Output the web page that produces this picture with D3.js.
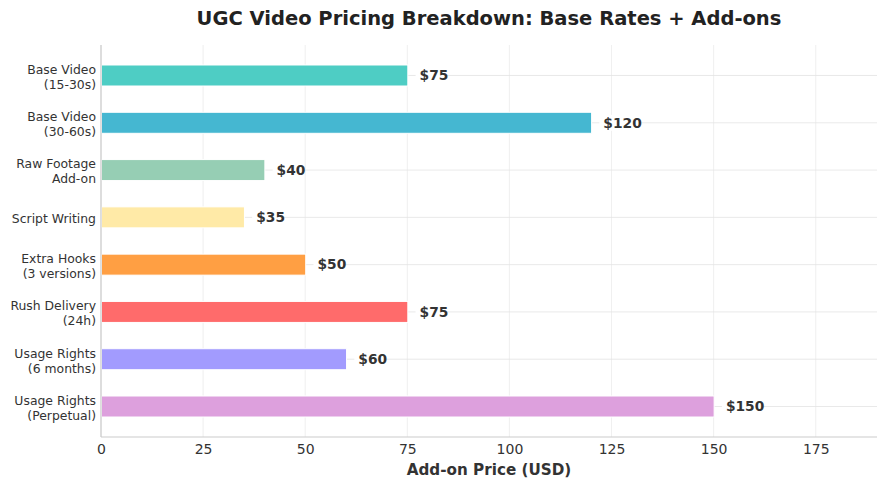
<!DOCTYPE html>
<html>
<head>
<meta charset="utf-8">
<script src="https://cdn.jsdelivr.net/npm/d3@7"></script>
<style>
  body { margin: 0; background: #fff; }
  text { font-family: "DejaVu Sans", sans-serif; }
</style>
</head>
<body>
<div id="chart"></div>
<script>
// chart data
var categories = ["Base Video\n(15-30s)", "Base Video\n(30-60s)", "Raw Footage\nAdd-on", "Script Writing",
  "Extra Hooks\n(3 versions)", "Rush Delivery\n(24h)", "Usage Rights\n(6 months)", "Usage Rights\n(Perpetual)"];
var prices = [75, 120, 40, 35, 50, 75, 60, 150];
var barColors = ["#4ECDC4", "#45B7D1", "#96CEB4", "#FFEAA7", "#FF9F43", "#FF6B6B", "#A29BFE", "#DDA0DD"];
var xTicks = [0, 25, 50, 75, 100, 125, 150, 175];

var svgWidth = 887;
var svgHeight = 486;
var margin = { top: 45, right: 10, bottom: 49, left: 101 };
var width = svgWidth - margin.left - margin.right;
var height = svgHeight - margin.top - margin.bottom;

var svg = d3.select("#chart").append("svg")
  .attr("width", svgWidth)
  .attr("height", svgHeight);

var chartGroup = svg.append("g")
  .attr("transform", `translate(${margin.left}, ${margin.top})`);

var xScale = d3.scaleLinear().domain([0, 190]).range([0, width]);
var yScale = d3.scalePoint().domain(d3.range(categories.length)).range([0, height]).padding(0.645);
var barH = 21;

// grid lines
chartGroup.append("g").selectAll("line").data(xTicks).enter().append("line")
  .attr("x1", d => xScale(d)).attr("x2", d => xScale(d))
  .attr("y1", 0).attr("y2", height)
  .attr("stroke", "#ebebeb").attr("stroke-width", 0.8);
chartGroup.append("g").selectAll("line").data(categories).enter().append("line")
  .attr("x1", 0).attr("x2", width)
  .attr("y1", (d, i) => yScale(i)).attr("y2", (d, i) => yScale(i))
  .attr("stroke", "#e3e3e3").attr("stroke-width", 0.8);

// bars
chartGroup.selectAll("rect.bar").data(prices).enter().append("rect")
  .attr("class", "bar")
  .attr("x", xScale(0) + 0.5)
  .attr("y", (d, i) => yScale(i) - barH / 2)
  .attr("width", d => xScale(d) - xScale(0))
  .attr("height", barH)
  .attr("fill", (d, i) => barColors[i])
  .attr("stroke", "#fff").attr("stroke-width", 1);

// value labels with white box
var labels = chartGroup.selectAll("g.lbl").data(prices).enter().append("g")
  .attr("class", "lbl")
  .attr("transform", (d, i) => `translate(${xScale(d + 3)}, ${yScale(i)})`);
labels.append("rect")
  .attr("x", -4).attr("y", -8)
  .attr("width", d => ("$" + d).length * 8.5 + 6).attr("height", 16)
  .attr("fill", "#fff");
labels.append("text")
  .attr("dy", "0.35em")
  .attr("font-size", "13.8px").attr("font-weight", "bold").attr("fill", "#333")
  .text(d => "$" + d);

// y axis labels
var yLab = chartGroup.append("g").selectAll("text").data(categories).enter().append("text")
  .attr("x", -5)
  .attr("text-anchor", "end")
  .attr("font-size", "12.4px").attr("fill", "#333");
yLab.each(function(d, i) {
  var lines = d.split("\n");
  var t = d3.select(this);
  lines.forEach(function(line, k) {
    t.append("tspan").attr("x", -5)
      .attr("y", yScale(i) + 1.5 + (k - (lines.length - 1) / 2) * 15)
      .attr("dy", "0.35em")
      .text(line);
  });
});

// x axis
var bottomAxis = d3.axisBottom(xScale).tickValues(xTicks).tickSize(0).tickPadding(7);
var xAxis = chartGroup.append("g")
  .attr("transform", `translate(0, ${height})`)
  .call(bottomAxis);
xAxis.select(".domain").remove();
xAxis.selectAll("text").attr("font-size", "14px").attr("fill", "#333").attr("font-family", "DejaVu Sans");

// spines
chartGroup.append("line").attr("x1", 0).attr("x2", 0).attr("y1", 0).attr("y2", height)
  .attr("stroke", "#ccc").attr("stroke-width", 1.2);
chartGroup.append("line").attr("x1", 0).attr("x2", width).attr("y1", height).attr("y2", height)
  .attr("stroke", "#ccc").attr("stroke-width", 1.2);

// axis title
svg.append("text")
  .attr("x", margin.left + width / 2).attr("y", 475)
  .attr("text-anchor", "middle")
  .attr("font-size", "15.2px").attr("font-weight", "bold").attr("fill", "#333")
  .text("Add-on Price (USD)");

// chart title
svg.append("text")
  .attr("x", margin.left + width / 2).attr("y", 25)
  .attr("text-anchor", "middle")
  .attr("font-size", "19.5px").attr("font-weight", "bold").attr("fill", "#222")
  .text("UGC Video Pricing Breakdown: Base Rates + Add-ons");
</script>
</body>
</html>
